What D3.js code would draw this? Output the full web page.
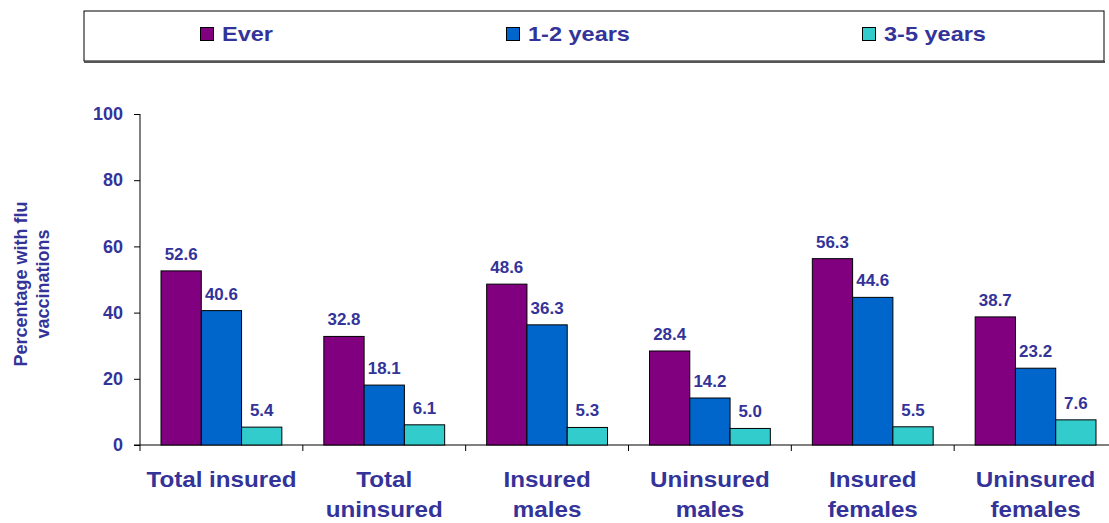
<!DOCTYPE html>
<html><head><meta charset="utf-8">
<script src="https://cdn.jsdelivr.net/npm/d3@7"></script>
<style>body{margin:0;background:#fff}svg{display:block;font-family:"Liberation Sans",Arial,sans-serif;font-weight:bold}</style>
</head><body><svg id="c" width="1109" height="523"></svg>
<script>
const categories = [["Total insured"],["Total","uninsured"],["Insured","males"],["Uninsured","males"],["Insured","females"],["Uninsured","females"]];
const seriesNames = ["Ever","1-2 years","3-5 years"];
const ever = [52.6,32.8,48.6,28.4,56.3,38.7];
const years12 = [40.6,18.1,36.3,14.2,44.6,23.2];
const years35 = [5.4,6.1,5.3,5.0,5.5,7.6];
const yTicks = [0,20,40,60,80,100];
const colors = ["#800080","#0066CC","#33CCCC"];
const series = [ever, years12, years35];
const textColor = "#333399";

const svg = d3.select("#c");
const x0 = d3.scaleBand().domain(d3.range(categories.length)).range([140,1117]).paddingInner(0).paddingOuter(0);
const x1 = d3.scaleBand().domain(d3.range(3)).range([21, x0.bandwidth()-21]);
const y = d3.scaleLinear().domain([0,100]).range([445,114]);

// Legend box
svg.append("rect").attr("x",84).attr("y",11).attr("width",1020).attr("height",50).attr("fill","#fff").attr("stroke","#000").attr("stroke-width",1);
svg.append("line").attr("x1",84).attr("x2",1105).attr("y1",62).attr("y2",62).attr("stroke","#555").attr("stroke-width",2);
const legX = [200,506,862];
seriesNames.forEach((n,i)=>{
  svg.append("rect").attr("x",legX[i]+0.5).attr("y",27.5).attr("width",13).attr("height",13).attr("fill",colors[i]).attr("stroke","#000").attr("stroke-width",1);
  svg.append("text").attr("transform",`translate(${legX[i]+22},41) scale(1.12,1)`).attr("fill",textColor).attr("font-size",21).text(n);
});

// y axis
const yAxis = svg.append("g").attr("transform","translate(140,0)").call(d3.axisLeft(y).tickValues(yTicks).tickSize(6).tickPadding(11));
yAxis.select(".domain").attr("stroke","#000").attr("d","M0,114V445");
yAxis.selectAll(".tick line").attr("stroke","#000");
yAxis.selectAll("text").attr("fill",textColor).attr("font-size",18).attr("font-weight","bold").attr("font-family","Liberation Sans, Arial, sans-serif");

// x axis
svg.append("line").attr("x1",134).attr("x2",1109).attr("y1",445).attr("y2",445).attr("stroke","#000");
d3.range(categories.length+1).forEach(i=>{
  const xx = i<categories.length ? x0(i) : 1117;
  svg.append("line").attr("x1",xx).attr("x2",xx).attr("y1",445).attr("y2",451).attr("stroke","#000");
});

// bars
categories.forEach((c,ci)=>{
  const g = svg.append("g").attr("transform",`translate(${x0(ci)},0)`);
  series.forEach((s,si)=>{
    g.append("rect").attr("x",x1(si)).attr("y",y(s[ci])).attr("width",x1.bandwidth()).attr("height",y(0)-y(s[ci]))
      .attr("fill",colors[si]).attr("stroke","#000").attr("stroke-width",1);
    g.append("text").attr("transform",`translate(${x1(si)+x1.bandwidth()/2},${y(s[ci])-11}) scale(1.06,1)`).attr("text-anchor","middle")
      .attr("fill",textColor).attr("font-size",16).text(s[ci].toFixed(1));
  });
  c.forEach((line,li)=>{
    svg.append("text").attr("transform",`translate(${x0(ci)+x0.bandwidth()/2},${487+li*30}) scale(1.1,1)`)
      .attr("text-anchor","middle").attr("fill",textColor).attr("font-size",22).text(line);
  });
});

// y title
const yt = svg.append("text").attr("transform","translate(27,284) rotate(-90)").attr("text-anchor","middle").attr("fill",textColor).attr("font-size",18);
yt.append("tspan").attr("x",0).attr("y",0).text("Percentage with flu");
yt.append("tspan").attr("x",0).attr("y",22).text("vaccinations");
</script></body></html>
